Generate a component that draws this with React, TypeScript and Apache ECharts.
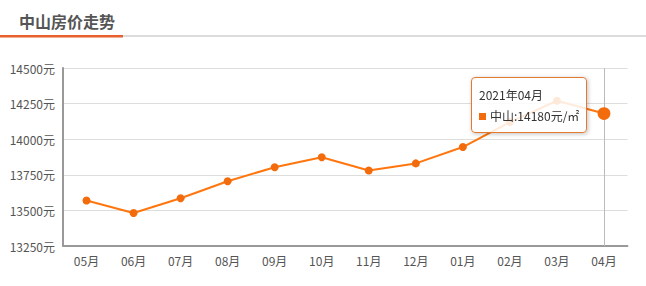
import React, { useEffect, useRef } from "react";
import * as echarts from "echarts";

const title = "中山房价走势";
const seriesName = "中山";
const months = ["05月", "06月", "07月", "08月", "09月", "10月", "11月", "12月", "01月", "02月", "03月", "04月"];
const fullMonths = ["2020年05月", "2020年06月", "2020年07月", "2020年08月", "2020年09月", "2020年10月", "2020年11月", "2020年12月", "2021年01月", "2021年02月", "2021年03月", "2021年04月"];
const prices = [13570, 13482, 13585, 13705, 13803, 13873, 13780, 13830, 13945, 14120, 14270, 14180];
const yMin = 13250;
const yMax = 14500;
const yStep = 250;
const shownIndex = 11;

const FONT = "'Noto Sans CJK SC', 'Noto Sans', sans-serif";
const ORANGE = "#f26c0d";

export default function App() {
  const ref = useRef<HTMLDivElement>(null);
  useEffect(() => {
    document.body.style.margin = "0";
    const chart = echarts.init(ref.current!, undefined, { renderer: "svg" });
    chart.setOption({
      animation: false,
      textStyle: { fontFamily: FONT },
      title: {
        text: title,
        left: 14,
        top: 8,
        textStyle: { fontSize: 16, fontWeight: "bold", color: "#555", fontFamily: FONT },
      },
      graphic: [
        { type: "rect", shape: { x: 0, y: 35, width: 646, height: 2 }, style: { fill: "#dcdcdc" } },
        { type: "rect", shape: { x: 0, y: 35, width: 123, height: 2.5 }, style: { fill: "#e8612c" } },
      ],
      grid: { left: 63, right: 18.5, top: 68, bottom: 40 },
      tooltip: {
        trigger: "axis",
        alwaysShowContent: true,
        transitionDuration: 0,
        position: [471, 77],
        backgroundColor: "rgba(255,255,255,0.85)",
        borderColor: "#e27a30",
        borderWidth: 1,
        padding: [6, 7, 6, 7],
        textStyle: { color: "#333", fontSize: 12, fontFamily: FONT },
        extraCssText: "border-radius:4px;box-shadow:1px 1px 4px rgba(0,0,0,0.25);line-height:21px;",
        axisPointer: { type: "line", z: 1, lineStyle: { color: "#bbb", width: 1, type: "solid" } },
        formatter: (params: any) => {
          const p = Array.isArray(params) ? params[0] : params;
          return (
            fullMonths[p.dataIndex] +
            '<br/><span style="display:inline-block;width:7px;height:7px;background:' +
            ORANGE +
            ';margin-right:4px;vertical-align:middle;margin-top:-2px"></span>' +
            p.seriesName +
            ":" +
            p.value +
            "元/㎡"
          );
        },
      },
      xAxis: {
        type: "category",
        data: months,
        boundaryGap: true,
        axisLine: { lineStyle: { color: "#999", width: 2 } },
        axisTick: { alignWithLabel: true, length: 4, lineStyle: { color: "#bbb", width: 1 } },
        axisLabel: { color: "#555", fontSize: 12, margin: 8 },
      },
      yAxis: {
        type: "value",
        min: yMin,
        max: yMax,
        interval: yStep,
        axisLine: { show: true, lineStyle: { color: "#999", width: 2 } },
        axisTick: { show: false },
        axisLabel: { color: "#555", fontSize: 12, margin: 8, formatter: (v: number) => String(v) + "元" },
        splitLine: { lineStyle: { color: "#ddd", width: 1 } },
      },
      series: [
        {
          name: seriesName,
          type: "line",
          z: 5,
          data: prices,
          symbol: "circle",
          symbolSize: 8,
          itemStyle: { color: ORANGE, borderWidth: 0 },
          lineStyle: { color: ORANGE, width: 2 },
          emphasis: { scale: 1.6, itemStyle: { color: ORANGE, borderWidth: 0 }, lineStyle: { width: 2 } },
        },
      ],
    });
    chart.dispatchAction({ type: "showTip", seriesIndex: 0, dataIndex: shownIndex });
    return () => chart.dispose();
  }, []);
  return <div ref={ref} style={{ width: 646, height: 286 }} />;
}
